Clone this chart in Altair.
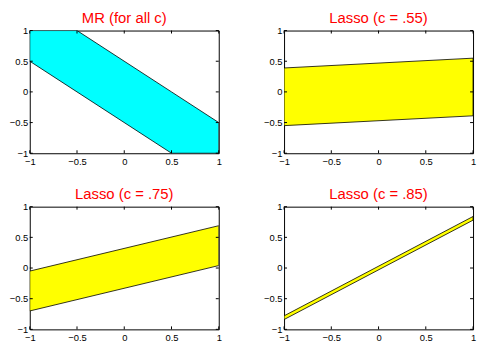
import altair as alt
import pandas as pd

TICKS = [-1, -0.5, 0, 0.5, 1]
TITLES = ["MR (for all c)", "Lasso (c = .55)", "Lasso (c = .75)", "Lasso (c = .85)"]
COLORS = ["#00ffff", "#ffff00", "#ffff00", "#ffff00"]

MR_X = [-1, -0.5, 0.5, 1]
MR_HI = [1, 1, 0, -0.5]
MR_LO = [0.5, 0, -1, -1]

L55_X = [-1, 1]
L55_HI = [0.39, 0.55]
L55_LO = [-0.55, -0.39]

L75_X = [-1, 1]
L75_HI = [-0.05, 0.69]
L75_LO = [-0.70, 0.04]

L85_X = [-1, 1]
L85_HI = [-0.78, 0.84]
L85_LO = [-0.84, 0.78]

W, H = 191, 124
FONT = "Liberation Sans"
TL = 3


def panel(title, xs, hi, lo, color):
    df = pd.DataFrame({"x": xs, "hi": hi, "lo": lo})
    xsc = alt.Scale(domain=[-1, 1], nice=False, zero=False)
    ysc = alt.Scale(domain=[-1, 1], nice=False, zero=False)
    common = dict(values=TICKS, format=".1~f", ticks=False, domain=False, grid=False,
                  title=None, labelFont=FONT, labelFontSize=9.5,
                  labelColor="#000000", labelFlush=False)
    axx = dict(common, labelPadding=3)
    axy = dict(common, labelPadding=2)
    area = alt.Chart(df).mark_area(
        fill=color, stroke="#000000", strokeWidth=0.8, opacity=1, fillOpacity=1, clip=True
    ).encode(
        x=alt.X("x:Q", scale=xsc, axis=alt.Axis(**axx)),
        y=alt.Y("hi:Q", scale=ysc, axis=alt.Axis(**axy)),
        y2="lo:Q",
    )
    tdf = pd.DataFrame({"t": TICKS})
    base = alt.Chart(tdf).mark_rule(color="#000000", strokeWidth=1)
    top = base.encode(x=alt.X("t:Q", scale=xsc, axis=alt.Axis(**axx)), y=alt.value(0), y2=alt.value(TL))
    bot = base.encode(x=alt.X("t:Q", scale=xsc, axis=alt.Axis(**axx)), y=alt.value(H - TL), y2=alt.value(H))
    left = base.encode(y=alt.Y("t:Q", scale=ysc, axis=alt.Axis(**axy)), x=alt.value(0), x2=alt.value(TL))
    right = base.encode(y=alt.Y("t:Q", scale=ysc, axis=alt.Axis(**axy)), x=alt.value(W - TL), x2=alt.value(W))
    return alt.layer(area, top, bot, left, right).properties(
        width=W, height=H,
        title=alt.TitleParams(title, color="#ff0000", font=FONT, fontSize=15,
                              fontWeight="normal", offset=0, anchor="middle",
                              frame="group"),
    )


p1 = panel(TITLES[0], MR_X, MR_HI, MR_LO, COLORS[0])
p2 = panel(TITLES[1], L55_X, L55_HI, L55_LO, COLORS[1])
p3 = panel(TITLES[2], L75_X, L75_HI, L75_LO, COLORS[2])
p4 = panel(TITLES[3], L85_X, L85_HI, L85_LO, COLORS[3])

chart = alt.vconcat(
    alt.hconcat(p1, p2, spacing=40),
    alt.hconcat(p3, p4, spacing=40),
    spacing=20,
).properties(padding=0).configure_view(stroke="#000000", strokeWidth=1)

chart.save("out.html", embed_options={"renderer": "svg", "actions": False})
